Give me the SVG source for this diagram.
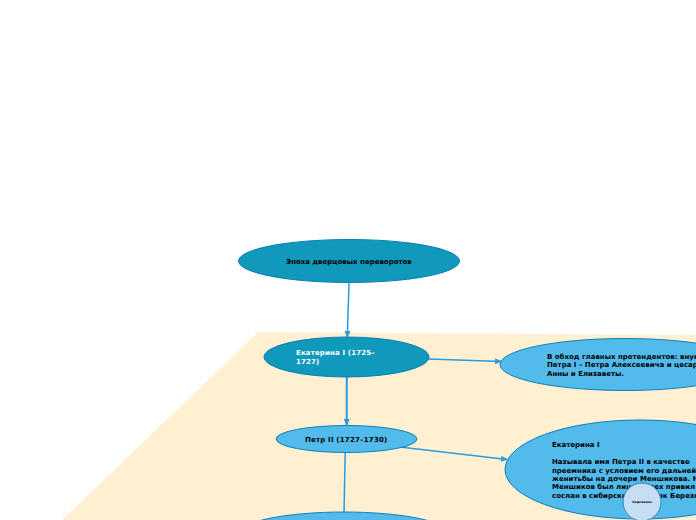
<svg xmlns="http://www.w3.org/2000/svg" width="696" height="520" viewBox="0 0 696 520">
<style>
text{font-family:"DejaVu Sans",sans-serif;font-weight:bold;font-size:7px;fill:#000}
.dark{fill:#1199bb;stroke:#0b7fb5;stroke-width:1}
.light{fill:#52bbec;stroke:#0f7fb8;stroke-width:1}
.c{fill:none;stroke:#2b9ade;stroke-width:1.500}
.h{fill:#2b9ade}
</style>
<defs><marker id="a" markerWidth="7" markerHeight="6" refX="6" refY="3" orient="auto" markerUnits="userSpaceOnUse"><path class="h" d="M0 0L7 3L0 6Z"/></marker></defs>
<rect width="696" height="520" fill="#fff"/>
<polygon points="258,332 696,335 696,520 62,520" fill="#fff0d2"/>
<g id="connectors">
<path class="c" d="M349 283L347.300 337" marker-end="url(#a)"/>
<path class="c" d="M429 359L501 361.500" marker-end="url(#a)"/>
<path class="c" style="stroke-width:2" d="M346.800 377L346.700 425" marker-end="url(#a)"/>
<path class="c" d="M400 447L507 459.500" marker-end="url(#a)"/>
<path class="c" d="M345.200 452L344 513"/>
</g>
<g id="n1"><ellipse class="dark" cx="349" cy="261" rx="110.500" ry="21.500"/><text x="286" y="264">Эпоха дворцовых переворотов</text></g>
<g id="n2"><ellipse class="dark" cx="346.500" cy="357" rx="82.500" ry="20"/><text x="296" y="355" style="fill:#fff;letter-spacing:.15px">Екатерина I (1725–</text><text x="296" y="364" style="fill:#fff;letter-spacing:.15px">1727)</text></g>
<g id="n3"><ellipse class="light" cx="346.500" cy="439" rx="70.500" ry="13.500"/><text x="305" y="441.500" style="letter-spacing:.2px">Петр II (1727–1730)</text></g>
<g id="n4"><ellipse class="light" cx="344" cy="534" rx="106" ry="22"/></g>
<g id="n5"><ellipse class="light" cx="625" cy="364.500" rx="125" ry="26"/><text x="547" y="359">В обход главных претендентов: внук</text><text x="547" y="367">Петра I – Петра Алексеевича и цесар</text><text x="547" y="376">Анны и Елизаветы.</text></g>
<g id="n6"><ellipse class="light" cx="640" cy="469.500" rx="135" ry="49.500"/><text x="552" y="447">Екатерина I</text><text x="552" y="464">Называла имя Петра II в качестве</text><text x="552" y="472.500">преемника с условием его дальней</text><text x="552" y="481">женитьбы на дочери Меншикова. Н</text><text x="552" y="489">Меншиков был лишен всех привил</text><text x="552" y="497.500">сослан в сибирский городок Березо</text></g>
<g id="n7"><circle cx="642" cy="502" r="19" fill="#c5def2" stroke="#2a86c0" stroke-width="1"/><text x="642" y="503" text-anchor="middle" style="font-size:3.200px">подсказка</text></g>
</svg>
